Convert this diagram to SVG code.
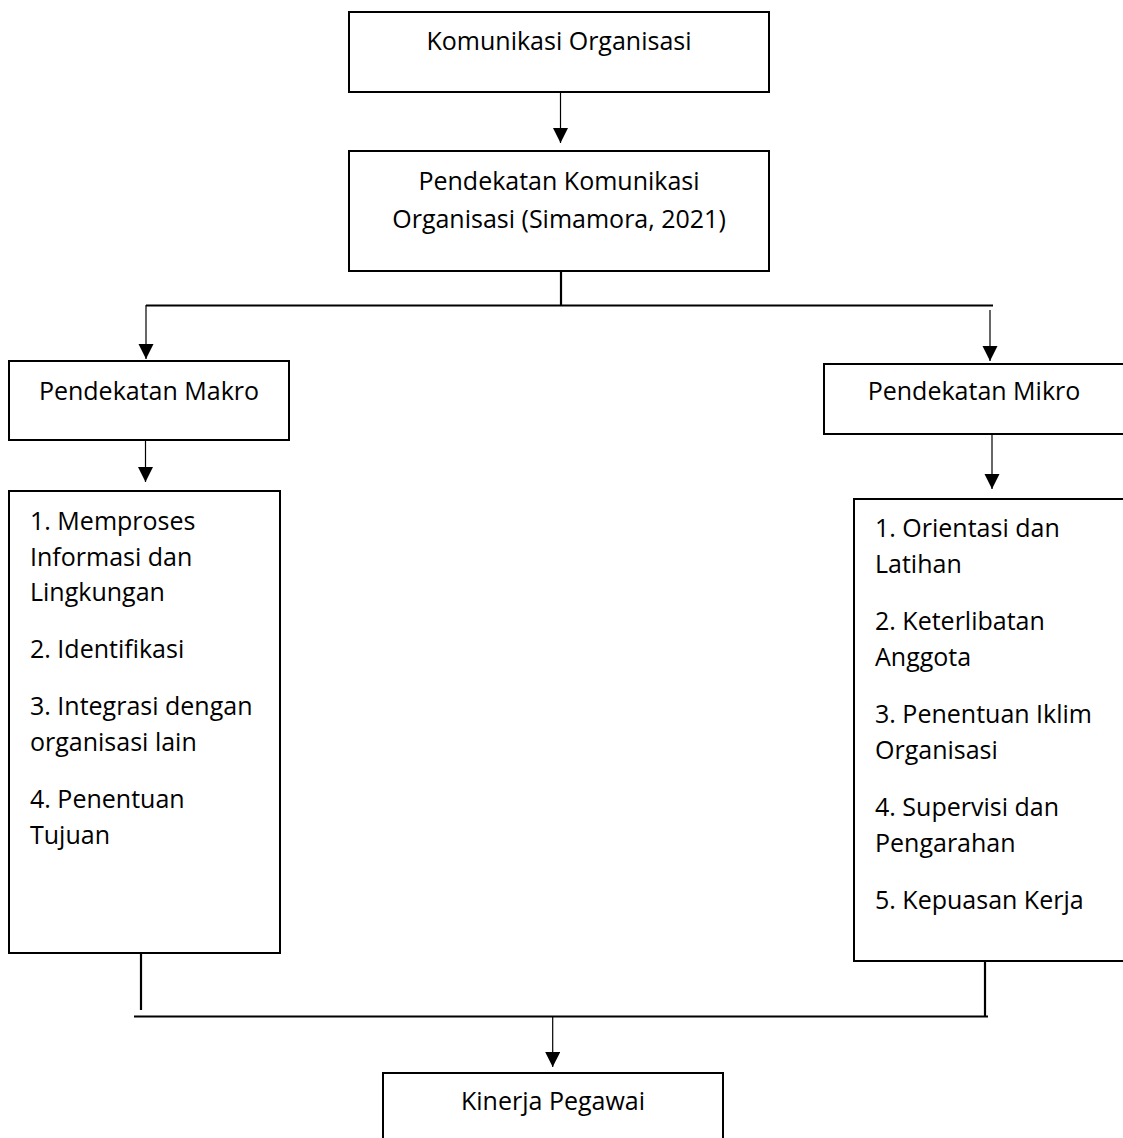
<svg xmlns="http://www.w3.org/2000/svg" width="1123" height="1138" viewBox="0 0 1123 1138">
<style>
.box{fill:#fff;stroke:#000;stroke-width:2}
.t{font-family:"Open Sans","Noto Sans","Liberation Sans",sans-serif;font-size:25px;fill:#000}
.c{text-anchor:middle}
.thin{stroke:#000;stroke-width:1.2;fill:none}
.thick{stroke:#000;stroke-width:2.2;fill:none}
</style>
<defs>
<marker id="ah" markerUnits="userSpaceOnUse" markerWidth="16" markerHeight="16" viewBox="0 0 16 16" refX="15" refY="7.5" orient="auto">
<path d="M0,0 L15,7.5 L0,15 Z" fill="#000"/>
</marker>
</defs>
<rect width="1123" height="1138" fill="#fff"/>
<g id="connectors">
<line class="thin" x1="560.5" y1="92" x2="560.5" y2="143" marker-end="url(#ah)"/>
<line class="thick" x1="561" y1="268" x2="561" y2="306"/>
<line class="thick" x1="146" y1="305.5" x2="993" y2="305.5"/>
<line class="thin" x1="146" y1="305" x2="146" y2="359" marker-end="url(#ah)"/>
<line class="thin" x1="990" y1="310" x2="990" y2="361" marker-end="url(#ah)"/>
<line class="thin" x1="145.5" y1="440" x2="145.5" y2="482" marker-end="url(#ah)"/>
<line class="thin" x1="992" y1="434" x2="992" y2="489" marker-end="url(#ah)"/>
<line class="thick" x1="141" y1="950" x2="141" y2="1010"/>
<line class="thick" x1="985" y1="957" x2="985" y2="1017"/>
<line class="thick" x1="134" y1="1016.5" x2="988" y2="1016.5"/>
<line class="thin" x1="552.7" y1="1016" x2="552.7" y2="1067" marker-end="url(#ah)"/>
</g>
<g id="komunikasi-organisasi">
<rect class="box" x="349" y="12" width="420" height="80"/>
<text class="t c" x="559" y="50">Komunikasi Organisasi</text>
</g>
<g id="pendekatan-komunikasi">
<rect class="box" x="349" y="151" width="420" height="120"/>
<text class="t c" x="559" y="190">Pendekatan Komunikasi</text>
<text class="t c" x="559" y="228">Organisasi (Simamora, 2021)</text>
</g>
<g id="pendekatan-makro">
<rect class="box" x="9" y="361" width="280" height="79"/>
<text class="t c" x="149" y="400">Pendekatan Makro</text>
</g>
<g id="pendekatan-mikro">
<rect class="box" x="824" y="364" width="310" height="70"/>
<text class="t c" x="974" y="400">Pendekatan Mikro</text>
</g>
<g id="makro-items">
<rect class="box" x="9" y="491" width="271" height="462"/>
<text class="t" x="30" y="530">1. Memproses</text>
<text class="t" x="30" y="565.5">Informasi dan</text>
<text class="t" x="30" y="601">Lingkungan</text>
<text class="t" x="30" y="658">2. Identifikasi</text>
<text class="t" x="30" y="715">3. Integrasi dengan</text>
<text class="t" x="30" y="750.5">organisasi lain</text>
<text class="t" x="30" y="808">4. Penentuan</text>
<text class="t" x="30" y="843.5">Tujuan</text>
</g>
<g id="mikro-items">
<rect class="box" x="854" y="499" width="280" height="462"/>
<text class="t" x="875" y="537">1. Orientasi dan</text>
<text class="t" x="875" y="573">Latihan</text>
<text class="t" x="875" y="629.5">2. Keterlibatan</text>
<text class="t" x="875" y="665.5">Anggota</text>
<text class="t" x="875" y="722.5">3. Penentuan Iklim</text>
<text class="t" x="875" y="758.5">Organisasi</text>
<text class="t" x="875" y="816">4. Supervisi dan</text>
<text class="t" x="875" y="852">Pengarahan</text>
<text class="t" x="875" y="908.5">5. Kepuasan Kerja</text>
</g>
<g id="kinerja-pegawai">
<rect class="box" x="383" y="1073" width="340" height="80"/>
<text class="t c" x="553" y="1110">Kinerja Pegawai</text>
</g>
</svg>
